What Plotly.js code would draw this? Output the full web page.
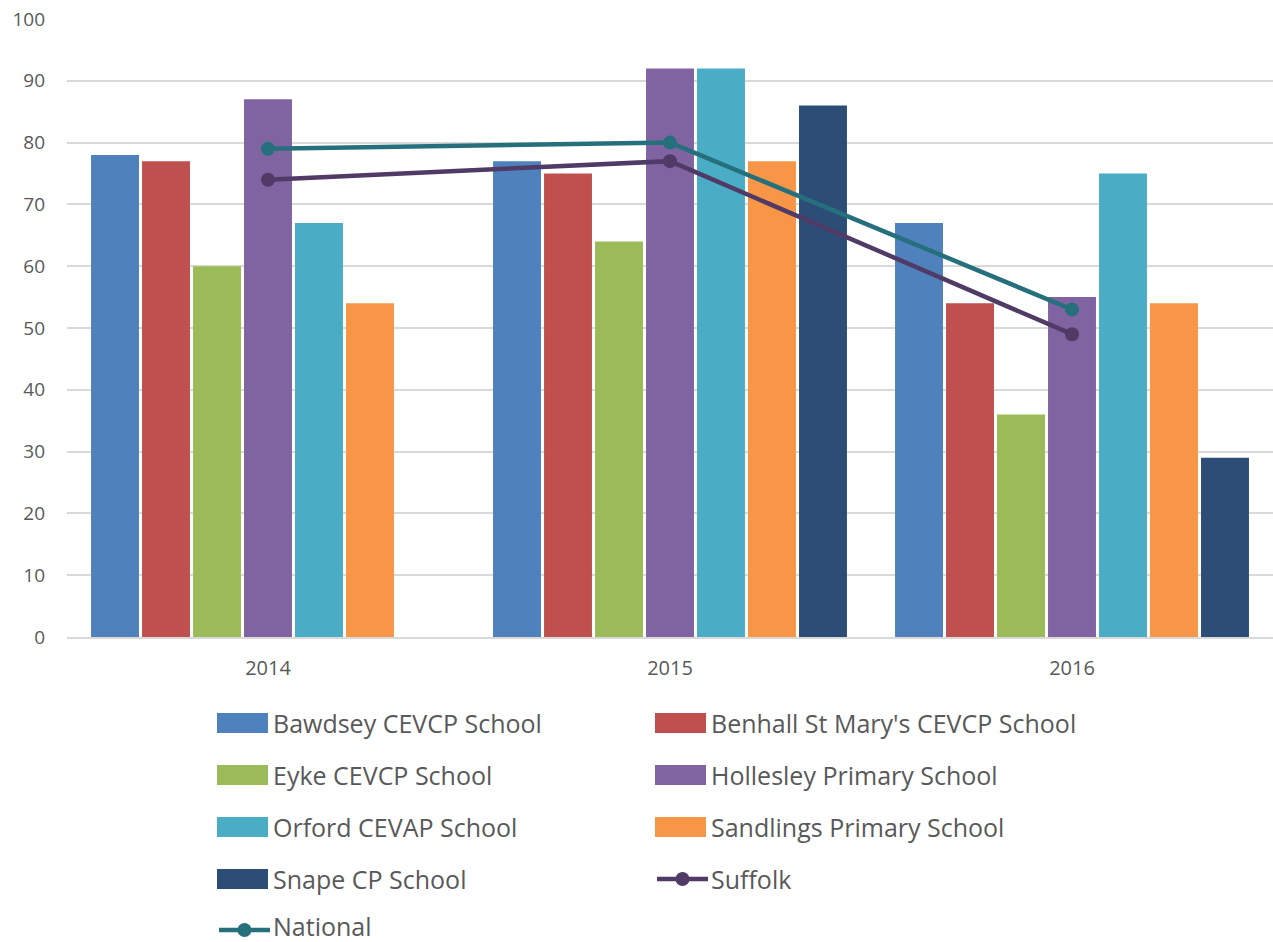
<!DOCTYPE html>
<html>
<head>
<meta charset="utf-8">
<script src="https://cdn.plot.ly/plotly-3.0.1.min.js"></script>
<style>html,body{margin:0;padding:0;background:#fff;}#chart{width:1273px;height:942px;}</style>
</head>
<body>
<div id="chart"></div>
<script>
// ---- data ----
const years = ['2014', '2015', '2016'];
const bawdsey = [78, 77, 67];
const benhall = [77, 75, 54];
const eyke = [60, 64, 36];
const hollesley = [87, 92, 55];
const orford = [67, 92, 75];
const sandlings = [54, 77, 54];
const snape = [null, 86, 29];
const suffolk = [74, 77, 49];
const national = [79, 80, 53];

const barNames = ['Bawdsey CEVCP School', "Benhall St Mary's CEVCP School", 'Eyke CEVCP School',
  'Hollesley Primary School', 'Orford CEVAP School', 'Sandlings Primary School', 'Snape CP School'];
const barValues = [bawdsey, benhall, eyke, hollesley, orford, sandlings, snape];
const barColors = ['#4F81BD', '#C0504D', '#9BBB59', '#8064A2', '#4BACC6', '#F79646', '#2C4D75'];
const lineNames = ['Suffolk', 'National'];
const lineValues = [suffolk, national];
const lineColors = ['#4F3B66', '#26707E'];

const FONT = 'Open Sans, Segoe UI, sans-serif';
const W = 1273, H = 942;
const M = {l: 67, r: 0, t: 19, b: 305};
const PW = W - M.l - M.r, PH = H - M.t - M.b;
const px2x = p => (p - M.l) / PW;
const py2y = p => (H - M.b - p) / PH;

const traces = [];
barNames.forEach((n, i) => {
  traces.push({type: 'bar', name: n, x: years, y: barValues[i],
    marker: {color: barColors[i]}, showlegend: false, hoverinfo: 'name+y'});
});
lineNames.forEach((n, i) => {
  traces.push({type: 'scatter', mode: 'lines+markers', name: n, x: years, y: lineValues[i],
    line: {color: lineColors[i], width: 4.5}, marker: {color: lineColors[i], size: 14},
    showlegend: false});
});

// ---- custom legend (two columns) ----
const shapes = [], annotations = [];
const legendItems = barNames.map((n, i) => ({name: n, color: barColors[i], kind: 'bar'}))
  .concat(lineNames.map((n, i) => ({name: n, color: lineColors[i], kind: 'line'})));
const colX = [217, 655];
const rowY = [723, 775, 827, 879, 930];
legendItems.forEach((it, k) => {
  const col = k % 2, row = Math.floor(k / 2);
  const x0 = colX[col], cy = rowY[row];
  if (it.kind === 'bar') {
    shapes.push({type: 'rect', xref: 'paper', yref: 'paper',
      x0: px2x(x0), x1: px2x(x0 + 51), y0: py2y(cy - 10), y1: py2y(cy + 10),
      fillcolor: it.color, line: {width: 0}});
  } else {
    shapes.push({type: 'line', xref: 'paper', yref: 'paper',
      x0: px2x(x0 + 2), x1: px2x(x0 + 53), y0: py2y(cy), y1: py2y(cy),
      line: {color: it.color, width: 4.5}});
    shapes.push({type: 'circle', xref: 'paper', yref: 'paper',
      x0: px2x(x0 + 20.5), x1: px2x(x0 + 34.5), y0: py2y(cy - 7), y1: py2y(cy + 7),
      fillcolor: it.color, line: {width: 0}});
  }
  const ty = row === 4 ? cy - 4 : cy;
  annotations.push({xref: 'paper', yref: 'paper', x: px2x(x0 + 55), y: py2y(ty),
    xanchor: 'left', yanchor: 'middle', showarrow: false, text: it.name, borderpad: 0,
    font: {family: FONT, size: 25, color: '#595959'}});
});

const layout = {
  width: W, height: H,
  margin: M,
  paper_bgcolor: '#fff', plot_bgcolor: '#fff',
  barmode: 'group', bargap: 0.112, bargroupgap: 0.06,
  showlegend: false,
  font: {family: FONT, color: '#595959'},
  xaxis: {type: 'category', showgrid: false, showline: true, linecolor: '#D9D9D9', linewidth: 2,
    ticks: '', tickfont: {family: FONT, size: 20, color: '#595959'}, ticklabelstandoff: 12,
    zeroline: false},
  yaxis: {range: [0, 100], dtick: 10, showgrid: true, gridcolor: '#D9D9D9', gridwidth: 2,
    zeroline: false, ticks: '', tickfont: {family: FONT, size: 19, color: '#595959'},
    ticklabelstandoff: 21, showline: false},
  shapes: shapes,
  annotations: annotations
};

Plotly.newPlot('chart', traces, layout, {displayModeBar: false, staticPlot: true});
</script>
</body>
</html>
